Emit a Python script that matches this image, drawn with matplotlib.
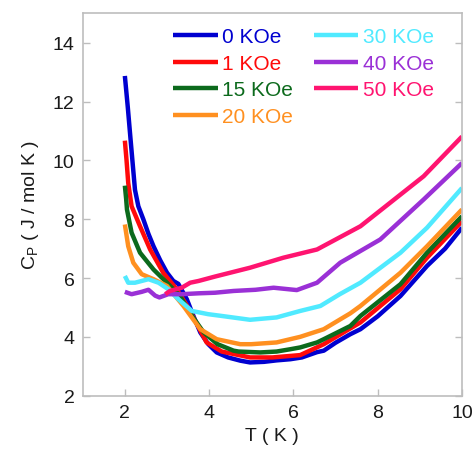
import matplotlib
matplotlib.use("Agg")
import matplotlib.pyplot as plt

plt.rcParams['font.family'] = ['Liberation Sans', 'DejaVu Sans']

labels = ['0 KOe', '1 KOe', '15 KOe', '20 KOe', '30 KOe', '40 KOe', '50 KOe']
colors = ['#0000d0', '#ff0a0a', '#0c6a1c', '#ff9020', '#50eaff', '#9a30d6', '#ff1470']

T0 = [2.0, 2.07, 2.13, 2.24, 2.32, 2.44, 2.56, 2.68, 2.84, 3.0, 3.15, 3.27, 3.47, 3.63, 3.79, 3.98, 4.18, 4.45, 4.74, 4.97, 5.3, 5.6, 5.93, 6.2, 6.56, 6.72, 7.0, 7.35, 7.59, 8.0, 8.54, 9.17, 9.6, 10.0]
C0 = [12.87, 11.8, 10.8, 9.0, 8.44, 7.99, 7.5, 7.08, 6.6, 6.18, 5.9, 5.8, 5.28, 4.7, 4.15, 3.75, 3.47, 3.3, 3.19, 3.13, 3.15, 3.2, 3.24, 3.3, 3.48, 3.53, 3.8, 4.09, 4.26, 4.7, 5.39, 6.41, 7.0, 7.71]

T1 = [2.0, 2.04, 2.08, 2.16, 2.36, 2.6, 2.91, 3.23, 3.5, 3.94, 4.3, 4.97, 5.5, 6.16, 6.72, 7.59, 8.54, 9.17, 10.0]
C1 = [10.67, 10.0, 9.23, 8.44, 7.76, 6.97, 6.18, 5.62, 5.0, 3.81, 3.5, 3.3, 3.3, 3.38, 3.75, 4.49, 5.62, 6.69, 7.93]

T15 = [2.0, 2.03, 2.05, 2.16, 2.36, 2.68, 3.0, 3.3, 3.6, 3.87, 4.2, 4.58, 4.7, 5.21, 5.6, 5.93, 6.16, 6.56, 6.72, 7.35, 7.59, 8.54, 9.17, 10.0]
C15 = [9.14, 8.7, 8.33, 7.54, 6.86, 6.29, 5.84, 5.4, 4.7, 4.15, 3.75, 3.53, 3.5, 3.47, 3.5, 3.58, 3.64, 3.81, 3.92, 4.37, 4.71, 5.79, 6.86, 8.10]

T20 = [2.0, 2.08, 2.2, 2.4, 2.68, 3.0, 3.39, 3.79, 4.18, 4.74, 5.0, 5.6, 6.16, 6.72, 7.35, 7.59, 8.54, 9.17, 10.0]
C20 = [7.82, 7.08, 6.52, 6.13, 5.96, 5.73, 5.05, 4.26, 3.92, 3.75, 3.75, 3.81, 4.0, 4.26, 4.8, 5.05, 6.18, 7.08, 8.33]

T30 = [2.0, 2.08, 2.24, 2.4, 2.56, 2.8, 3.03, 3.27, 3.59, 3.98, 4.3, 4.97, 5.6, 6.16, 6.64, 7.1, 7.59, 8.54, 9.17, 10.0]
C30 = [6.07, 5.84, 5.84, 5.9, 5.96, 5.84, 5.62, 5.28, 4.88, 4.77, 4.71, 4.58, 4.66, 4.88, 5.05, 5.45, 5.84, 6.86, 7.71, 9.06]

T40 = [2.0, 2.16, 2.4, 2.56, 2.72, 2.82, 3.03, 3.35, 3.75, 4.14, 4.58, 5.1, 5.53, 6.08, 6.56, 7.11, 8.06, 9.09, 10.0]
C40 = [5.53, 5.45, 5.53, 5.6, 5.4, 5.34, 5.45, 5.45, 5.48, 5.5, 5.56, 5.6, 5.67, 5.59, 5.84, 6.52, 7.31, 8.67, 9.91]

T50 = [2.96, 3.07, 3.35, 3.55, 3.75, 4.14, 4.97, 5.76, 6.56, 7.59, 9.09, 10.0]
C50 = [5.45, 5.56, 5.67, 5.84, 5.9, 6.05, 6.35, 6.69, 6.97, 7.76, 9.46, 10.81]

series = [(T0, C0), (T1, C1), (T15, C15), (T20, C20), (T30, C30), (T40, C40), (T50, C50)]

fig = plt.figure(figsize=(4.74, 4.52), dpi=100)
ax = fig.add_axes([0.1745, 0.1224, 0.8002, 0.846])

handles = []
for (t, c), lab, col in zip(series, labels, colors):
    h, = ax.plot(t, c, color=col, lw=3.2, label=lab, solid_joinstyle='round', solid_capstyle='butt')
    handles.append(h)

ax.set_xlim(1, 10)
ax.set_ylim(2, 15)
ax.set_xticks([2, 4, 6, 8, 10])
ax.set_yticks([2, 4, 6, 8, 10, 12, 14])

spine_col = '#bdbdbd'
for s in ax.spines.values():
    s.set_color(spine_col)
    s.set_linewidth(1.2)
ax.tick_params(direction='in', length=5, width=1, color=spine_col, labelsize=14,
               labelcolor='#1a1a1a', right=True, top=False, pad=6)

ax.set_xlabel('T ( K )', fontsize=14, color='#1a1a1a', labelpad=4)
ax.set_ylabel(r'C$_{\mathregular{P}}$ ( J / mol K )', fontsize=14, color='#1a1a1a', labelpad=8)

leg = fig.legend(handles=handles, labels=labels, ncol=2, loc='upper left',
                 bbox_to_anchor=(0.365, 0.937), bbox_transform=fig.transFigure,
                 frameon=False, fontsize=15, handlelength=2.15, handletextpad=0.2,
                 columnspacing=1.0, labelspacing=0.36, borderpad=0, borderaxespad=0)
for txt, col in zip(leg.get_texts(), colors):
    txt.set_color(col)

fig.savefig('out.png', dpi=100)
